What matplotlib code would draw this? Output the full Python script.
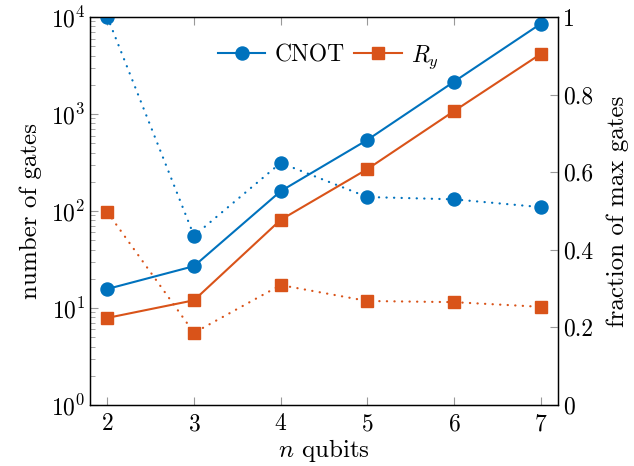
import numpy as np
import matplotlib
matplotlib.use('Agg')
import matplotlib.pyplot as plt
from matplotlib.ticker import LogLocator, NullFormatter

plt.rcParams['font.family'] = 'serif'
plt.rcParams['font.serif'] = ['cmr10']
plt.rcParams['mathtext.fontset'] = 'cm'
plt.rcParams['axes.formatter.use_mathtext'] = True

# data
n_qubits = [2, 3, 4, 5, 6, 7]
cnot_count = [15.7, 27, 160, 540, 2150, 8500]
ry_count = [7.9, 12, 81, 270, 1070, 4150]
cnot_frac = [1.0, 0.436, 0.624, 0.536, 0.530, 0.510]
ry_frac = [0.497, 0.186, 0.309, 0.268, 0.265, 0.253]

blue = '#0072BD'
orange = '#D95319'
tick_col = '#999999'
fs_tick = 17
fs_lab = 18
dotted = (0, (0.1, 3.3))  # tikz-like sparse dots

fig = plt.figure(figsize=(6.34, 4.66), dpi=100)
ax = fig.add_axes([0.142, 0.131, 0.738, 0.8325])
ax2 = ax.twinx()

# left axis: gate counts (solid)
ax.plot(n_qubits, cnot_count, '-o', color=blue, lw=1.5, ms=9.4, label='CNOT')
ax.plot(n_qubits, ry_count, '-s', color=orange, lw=1.5, ms=8.6, label='$R_y$')
ax.set_yscale('log')
ax.set_ylim(1, 1e4)
ax.set_xlim(1.8, 7.2)
ax.set_xticks(n_qubits)
ax.yaxis.set_major_locator(LogLocator(base=10, numticks=10))
ax.yaxis.set_minor_locator(LogLocator(base=10, subs=np.arange(2, 10), numticks=10))
ax.yaxis.set_minor_formatter(NullFormatter())
ax.set_xlabel('$n$ qubits', fontsize=fs_lab, labelpad=1)
ax.set_ylabel('number of gates', fontsize=fs_lab, labelpad=6)

# right axis: fraction of max gates (dotted)
ax2.plot(n_qubits, cnot_frac, marker='o', ls=dotted, dash_capstyle='round',
         color=blue, lw=1.6, ms=9.4)
ax2.plot(n_qubits, ry_frac, marker='s', ls=dotted, dash_capstyle='round',
         color=orange, lw=1.6, ms=8.6)
ax2.set_ylim(0, 1)
ax2.set_yticks([0, 0.2, 0.4, 0.6, 0.8, 1])
ax2.set_yticklabels(['0', '0.2', '0.4', '0.6', '0.8', '1'])
ax2.set_ylabel('fraction of max gates', fontsize=fs_lab, labelpad=10)

# pgfplots-like ticks
ax.tick_params(axis='x', which='both', direction='in', top=True, length=6,
               color=tick_col, labelsize=fs_tick, pad=6)
ax.tick_params(axis='y', which='major', direction='in', right=False, length=6,
               color=tick_col, labelsize=fs_tick)
ax.tick_params(axis='y', which='minor', direction='in', right=False, length=3.5,
               color=tick_col)
ax2.tick_params(axis='y', direction='in', length=6, color=tick_col, labelsize=fs_tick)
for a in (ax, ax2):
    for s in a.spines.values():
        s.set_linewidth(0.9)

ax.legend(loc='upper center', bbox_to_anchor=(0.51, 0.975), ncol=2, frameon=False,
          fontsize=fs_tick, handlelength=2.0, columnspacing=0.4, handletextpad=0.4,
          borderaxespad=0.3)

fig.savefig('out.png', dpi=100)
